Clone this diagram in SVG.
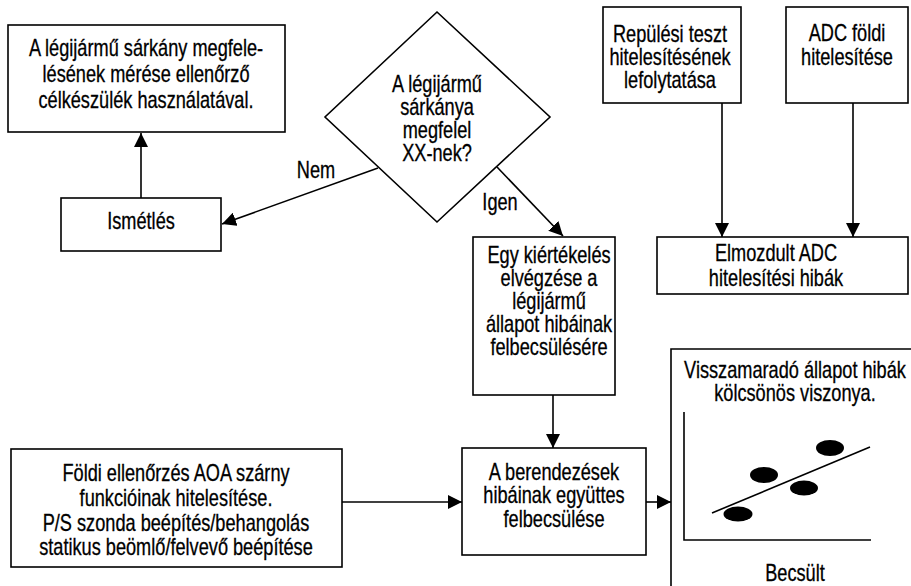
<svg xmlns="http://www.w3.org/2000/svg" width="911" height="586" viewBox="0 0 911 586">
<style>
.box{fill:#fff;stroke:#000;stroke-width:1.6}
.ln{fill:none;stroke:#000;stroke-width:1.6}
.dot{fill:#000}
text{font-family:"Liberation Sans",Arial,sans-serif;font-size:23px;fill:#000;stroke:#000;stroke-width:0.3;text-anchor:middle}
</style>
<defs>
<marker id="ah" viewBox="0 0 14 14" markerWidth="14" markerHeight="14" refX="14" refY="7" orient="auto" markerUnits="userSpaceOnUse"><path d="M0,0 L14,7 L0,14 z" fill="#000"/></marker>
</defs>
<rect width="911" height="586" fill="#fff"/>

<g id="n-meres">
<rect class="box" x="8" y="25" width="277" height="107"/>
<g transform="translate(146 0) scale(0.79 1)">
<text x="0" y="56">A légijármű sárkány megfele-</text>
<text x="0" y="82">lésének mérése ellenőrző</text>
<text x="0" y="108">célkészülék használatával.</text>
</g>
</g>

<g id="n-dontes">
<polygon class="box" points="437,12 550,117 437,222 325,117"/>
<g transform="translate(437 0) scale(0.79 1)">
<text x="0" y="92">A légijármű</text>
<text x="0" y="115">sárkánya</text>
<text x="0" y="138">megfelel</text>
<text x="0" y="161">XX-nek?</text>
</g>
</g>

<g id="n-ismetles">
<rect class="box" x="61" y="198" width="160" height="53"/>
<g transform="translate(141 0) scale(0.79 1)">
<text x="0" y="229">Ismétlés</text>
</g>
</g>

<g id="n-kiertekeles">
<rect class="box" x="473" y="237" width="142" height="158"/>
<g transform="translate(549 0) scale(0.79 1)">
<text x="0" y="263">Egy kiértékelés</text>
<text x="0" y="286">elvégzése a</text>
<text x="0" y="309">légijármű</text>
<text x="0" y="332">állapot hibáinak</text>
<text x="0" y="355">felbecsülésére</text>
</g>
</g>

<g id="n-berendezesek">
<rect class="box" x="462" y="448" width="184" height="107"/>
<g transform="translate(554 0) scale(0.79 1)">
<text x="0" y="480">A berendezések</text>
<text x="0" y="503">hibáinak együttes</text>
<text x="0" y="527">felbecsülése</text>
</g>
</g>

<g id="n-foldi">
<rect class="box" x="11" y="449" width="331" height="118"/>
<g transform="translate(176 0) scale(0.79 1)">
<text x="0" y="481">Földi ellenőrzés AOA szárny</text>
<text x="0" y="506">funkcióinak hitelesítése.</text>
<text x="0" y="531">P/S szonda beépítés/behangolás</text>
<text x="0" y="555">statikus beömlő/felvevő beépítése</text>
</g>
</g>

<g id="n-repules">
<rect class="box" x="603" y="7" width="138" height="96"/>
<g transform="translate(670 0) scale(0.79 1)">
<text x="0" y="42">Repülési teszt</text>
<text x="0" y="65">hitelesítésének</text>
<text x="0" y="88">lefolytatása</text>
</g>
</g>

<g id="n-adc">
<rect class="box" x="786" y="7" width="122" height="96"/>
<g transform="translate(847 0) scale(0.79 1)">
<text x="0" y="41">ADC földi</text>
<text x="0" y="65">hitelesítése</text>
</g>
</g>

<g id="n-elmozdult">
<rect class="box" x="657" y="237" width="251" height="57"/>
<g transform="translate(776 0) scale(0.79 1)">
<text x="0" y="261">Elmozdult ADC</text>
<text x="0" y="286">hitelesítési hibák</text>
</g>
</g>

<g id="n-korrelacio">
<path class="ln" d="M671 586 V349 H911"/>
<g transform="translate(795 0) scale(0.79 1)">
<text x="0" y="378">Visszamaradó állapot hibák</text>
<text x="0" y="401">kölcsönös viszonya.</text>
<text x="0" y="581">Becsült</text>
</g>
<path class="ln" d="M684 412 V540 H871"/>
<line class="ln" x1="712" y1="513" x2="870" y2="447"/>
<ellipse class="dot" cx="738" cy="514" rx="14.5" ry="7.5"/>
<ellipse class="dot" cx="764" cy="475" rx="14" ry="8"/>
<ellipse class="dot" cx="804" cy="488" rx="14" ry="7.5"/>
<ellipse class="dot" cx="830" cy="448" rx="14" ry="8"/>
</g>

<g id="connectors">
<line class="ln" x1="141" y1="198" x2="141" y2="133" marker-end="url(#ah)"/>
<line class="ln" x1="378" y1="168" x2="222" y2="224" marker-end="url(#ah)"/>
<line class="ln" x1="497" y1="167" x2="563" y2="236" marker-end="url(#ah)"/>
<line class="ln" x1="553" y1="395" x2="553" y2="448" marker-end="url(#ah)"/>
<line class="ln" x1="342" y1="502" x2="462" y2="502" marker-end="url(#ah)"/>
<line class="ln" x1="646" y1="502" x2="671" y2="502" marker-end="url(#ah)"/>
<line class="ln" x1="722" y1="103" x2="722" y2="237" marker-end="url(#ah)"/>
<line class="ln" x1="853" y1="103" x2="853" y2="237" marker-end="url(#ah)"/>
<g transform="translate(316 0) scale(0.79 1)"><text x="0" y="178">Nem</text></g>
<g transform="translate(500 0) scale(0.79 1)"><text x="0" y="210">Igen</text></g>
</g>
</svg>
